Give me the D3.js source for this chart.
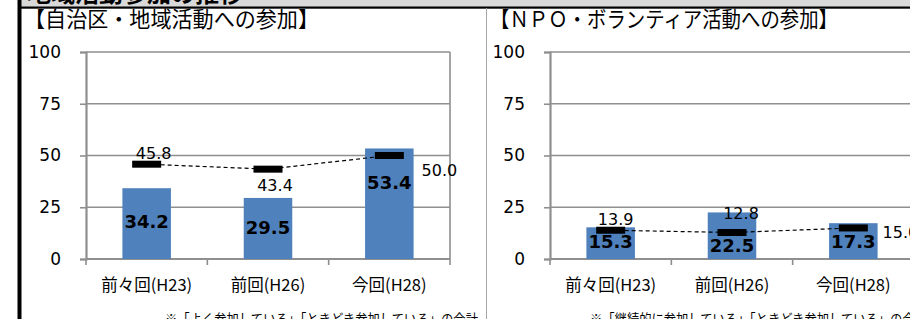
<!DOCTYPE html>
<html><head><meta charset="utf-8">
<script src="https://cdn.jsdelivr.net/npm/d3@7/dist/d3.min.js"></script>
<style>
html,body{margin:0;padding:0;background:#fff;overflow:hidden;}
svg{display:block;}
</style></head>
<body>
<script>
// ---- data ----
const categories = ["前々回(H23)", "前回(H26)", "今回(H28)"];
const yTicks = [0, 25, 50, 75, 100];
const headerTitle = "地域活動参加の推移";
const localTitle = "【自治区・地域活動への参加】";
const localBars = [34.2, 29.5, 53.4];
const localMarks = [45.8, 43.4, 50.0];
const localNote = "※「よく参加している」「ときどき参加している」の合計";
const npoTitle = "【ＮＰＯ・ボランティア活動への参加】";
const npoBars = [15.3, 22.5, 17.3];
const npoMarks = [13.9, 12.8, 15.0];
const npoNote = "※「継続的に参加している」「ときどき参加している」の合計";

// ---- layout / style ----
const W = 910, H = 319;
const svg = d3.select("body").append("svg").attr("width", W).attr("height", H);
const JP = "'Noto Sans CJK JP', sans-serif";
const NUM = "'DejaVu Sans', Verdana, sans-serif";
const GRID = "#8f8f8f";
const BAR = "#4f81bd";

// header strip
svg.append("rect").attr("x", 20).attr("y", 0).attr("width", W - 20).attr("height", 7).attr("fill", "#d9d9d9");
svg.append("text").attr("x", 27).attr("y", 1.5).attr("font-family", JP).attr("font-weight", "bold")
  .attr("font-size", 24).attr("fill", "#000").text(headerTitle);
svg.append("rect").attr("x", 18).attr("y", 6.5).attr("width", W - 18).attr("height", 2.2).attr("fill", "#000");
svg.append("rect").attr("x", 17.5).attr("y", 0).attr("width", 4).attr("height", H).attr("fill", "#000");
// divider
svg.append("line").attr("x1", 486.5).attr("x2", 486.5).attr("y1", 8).attr("y2", H)
  .attr("stroke", "#a6a6a6").attr("stroke-width", 1);

function panel(cfg) {
  const g = svg.append("g");
  const x = d3.scaleBand().domain(categories).range([cfg.x0, cfg.x1]).paddingInner(0.6).paddingOuter(0.3);
  const y = d3.scaleLinear().domain([0, 100]).range([259, 52]);

  // title
  g.append("text").attr("x", cfg.titleX).attr("y", 27).attr("font-family", JP).attr("font-size", 21.5)
    .attr("fill", "#000").attr("textLength", cfg.titleLen).attr("lengthAdjust", "spacingAndGlyphs").text(cfg.title);

  // gridlines
  g.selectAll(".grid").data(yTicks.filter(d => d > 0)).join("line")
    .attr("x1", cfg.x0).attr("x2", cfg.x1).attr("y1", d => y(d)).attr("y2", d => y(d))
    .attr("stroke", GRID).attr("stroke-width", 1.6);
  // right frame
  g.append("line").attr("x1", cfg.x1).attr("x2", cfg.x1).attr("y1", y(100)).attr("y2", y(0))
    .attr("stroke", GRID).attr("stroke-width", 1.6);

  // y axis
  const yAxis = d3.axisLeft(y).tickValues(yTicks).tickSize(6).tickPadding(19).tickFormat(d3.format("d"));
  const ya = g.append("g").attr("transform", `translate(${cfg.x0},0)`).call(yAxis);
  ya.select(".domain").attr("stroke", GRID).attr("stroke-width", 2.2);
  ya.selectAll(".tick line").attr("stroke", GRID).attr("stroke-width", 1.6);
  ya.selectAll(".tick text").attr("font-family", NUM).attr("font-size", 17).attr("fill", "#000");

  // x axis
  const tickXs = d3.range(categories.length + 1).map(i => cfg.x0 + i * (cfg.x1 - cfg.x0) / categories.length);
  g.append("line").attr("x1", cfg.x0).attr("x2", cfg.x1).attr("y1", y(0)).attr("y2", y(0))
    .attr("stroke", GRID).attr("stroke-width", 2);
  g.selectAll(".xt").data(tickXs).join("line")
    .attr("x1", d => d).attr("x2", d => d).attr("y1", y(0)).attr("y2", y(0) + 6)
    .attr("stroke", GRID).attr("stroke-width", 1.6);
  g.selectAll(".xl").data(categories).join("text")
    .attr("x", d => x(d) + x.bandwidth() / 2).attr("y", 291)
    .attr("text-anchor", "middle").attr("font-family", JP).attr("font-size", 16.5).attr("fill", "#000")
    .text(d => d);

  // bars
  g.selectAll(".bar").data(cfg.bars).join("rect")
    .attr("x", (d, i) => x(categories[i])).attr("width", x.bandwidth())
    .attr("y", d => y(d)).attr("height", d => y(0) - y(d)).attr("fill", BAR);

  // dashed line + markers
  const cx = i => x(categories[i]) + x.bandwidth() / 2;
  const line = d3.line().x((d, i) => cx(i)).y(d => y(d));
  g.append("path").attr("d", line(cfg.marks)).attr("fill", "none").attr("stroke", "#000")
    .attr("stroke-width", 1.2).attr("stroke-dasharray", "4,3");
  g.selectAll(".mk").data(cfg.marks).join("rect")
    .attr("x", (d, i) => cx(i) - 14.5).attr("y", d => y(d) - 3.5).attr("width", 29).attr("height", 7)
    .attr("fill", "#000");

  // bar labels
  g.selectAll(".bl").data(cfg.bars).join("text")
    .attr("x", (d, i) => cx(i))
    .attr("y", (d, i) => (y(d) + y(0)) / 2 + cfg.barShift[i] + 6.5)
    .attr("text-anchor", "middle").attr("font-family", NUM).attr("font-weight", "bold")
    .attr("font-size", 18).attr("fill", "#000").text(d => d3.format(".1f")(d));

  // marker labels
  g.selectAll(".ml").data(cfg.marks).join("text")
    .attr("x", (d, i) => cx(i) + cfg.markShift[i][0])
    .attr("y", (d, i) => y(d) + cfg.markShift[i][1] + 6)
    .attr("text-anchor", "middle").attr("font-family", NUM)
    .attr("font-size", 16).attr("fill", "#000").text(d => d3.format(".1f")(d));

  // note
  g.append("text").attr("x", cfg.noteX).attr("y", 324).attr("font-family", JP).attr("font-size", 14)
    .attr("fill", "#000").attr("textLength", cfg.noteLen).attr("lengthAdjust", "spacingAndGlyphs").text(cfg.note);
}

panel({
  x0: 86, x1: 450, title: localTitle, titleX: 24, titleLen: 295,
  bars: localBars, marks: localMarks,
  barShift: [-2.6, -0.5, -21.7],
  markShift: [[7, -11.5], [7, 16], [50, 14.5]],
  note: localNote, noteX: 165, noteLen: 313
});
panel({
  x0: 550, x1: 914, title: npoTitle, titleX: 490, titleLen: 348,
  bars: npoBars, marks: npoMarks,
  barShift: [-1.3, 9.3, 0.7],
  markShift: [[5, -11], [9, -19.5], [47, 4]],
  note: npoNote, noteX: 590, noteLen: 337
});
</script>
</body></html>
